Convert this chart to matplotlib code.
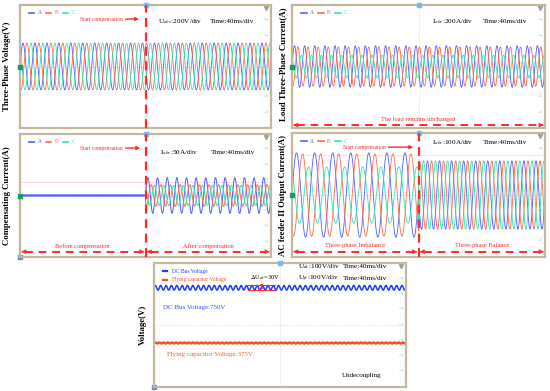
import numpy as np
import matplotlib.pyplot as plt

plt.rcParams['font.family'] = ['Liberation Serif', 'DejaVu Serif']
plt.rcParams['mathtext.fontset'] = 'stix'

# ---- data ----
phases = ['A', 'B', 'C']
phase_shift_deg = [0, -120, 120]
volt_peak = [305, 305, 305]              # V, 200 V/div
load_peak = [270, 255, 145]              # A, 200 A/div
comp_peak = [58, 35, 33]                 # A, 50 A/div
feeder_peak_before = [272, 266, 182]     # A, 100 A/div
feeder_peak_after = [220, 220, 220]
volt_cycles = 21
load_cycles = 25
comp_cycles = 26
feeder_cycles_before = 14
feeder_cycles_after = 21
dc_bus = 750          # V
dc_ripple_pp = 30     # V
dc_ripple_cycles = 47
fc_volt = 375         # V
fc_ripple_pp = 6
fc_ripple_cycles = 60

blue, red, green = '#4f5fff', '#ff6a4c', '#2fe6b2'
cols = [blue, red, green]
RED = '#ff2a2a'
t = np.linspace(0, 400, 6000)   # ms, 40 ms/div


def wave(peak, cycles, shift, start=0):
    return peak * np.sin(2 * np.pi * cycles / 400 * (t - start) + np.radians(shift))


def frac(scale, f):
    return f * 8 * scale - 4 * scale


def scope(ax, scale):
    ax.set_xlim(0, 400)
    ax.set_ylim(-4 * scale, 4 * scale)
    ax.set_xticks([])
    ax.set_yticks([])
    for s in ax.spines.values():
        s.set_color('#c4b89c')
        s.set_linewidth(1.6)
    ax.axhline(0, color='#c8c8c8', lw=0.5, ls=':', zorder=0)
    ax.axvline(200, color='#c8c8c8', lw=0.5, ls=':', zorder=0)
    for k in [-3, -2, -1, 0, 1, 2, 3]:
        ax.text(392, k * scale, '-- V', fontsize=1.8, color='#20b080', ha='center', va='center')
    ax.plot([392], [3.8 * scale], marker='v', ms=3, color='#a0a0a0', clip_on=False)
    ax.plot([200], [4 * scale], marker='s', ms=2.5, color='#7ab8f0', clip_on=False, zorder=5)


def legend_abc(ax, scale, y=0.935):
    yy = frac(scale, y)
    for i, (p, c) in enumerate(zip(phases, cols)):
        xs = 14 + i * 27
        ax.plot([xs, xs + 9], [yy, yy], color=c, lw=1.2)
        ax.text(xs + 14, yy, p, color=c, fontsize=4, va='center')


def zero_marker(ax):
    ax.plot([0], [0], marker='s', ms=3, color='#1a9a6a', clip_on=False, zorder=5)


def start_comp(ax, scale, xt, x0, x1, y=0.886):
    yy = frac(scale, y)
    ax.text(xt, yy, 'Start compensation', color=RED, fontsize=4, ha='center', va='center')
    ax.annotate('', xy=(x1, yy), xytext=(x0, yy),
                arrowprops=dict(arrowstyle='-|>', color=RED, lw=1.0, mutation_scale=5))


def dashed_arrow(ax, scale, x0, x1, label, y=0.043, ty=0.09):
    yy = frac(scale, y)
    ax.plot([x0 + 6, x1 - 6], [yy, yy], color=RED, lw=1.4, ls=(0, (4, 3)))
    ax.annotate('', xy=(x0, yy), xytext=(x0 + 7, yy),
                arrowprops=dict(arrowstyle='-|>', color=RED, lw=0.8, mutation_scale=6))
    ax.annotate('', xy=(x1, yy), xytext=(x1 - 7, yy),
                arrowprops=dict(arrowstyle='-|>', color=RED, lw=0.8, mutation_scale=6))
    ax.text((x0 + x1) / 2, frac(scale, ty), label, color=RED, fontsize=4.6,
            ha='center', va='center')


def red_vline(ax):
    ax.axvline(200, color=RED, lw=1.6, ls=(0, (4, 2.5)), zorder=6)


W, H = 550, 391
fig = plt.figure(figsize=(W / 100, H / 100), dpi=100)


def box(x0, y0, x1, y1):
    return fig.add_axes([x0 / W, 1 - y1 / H, (x1 - x0) / W, (y1 - y0) / H])


ax1 = box(20, 5, 271, 128)
ax2 = box(292, 5, 545, 128)
ax3 = box(20, 134, 271, 257)
ax4 = box(292, 133, 545, 257)
ax5 = box(154, 263, 406, 387)

# panel 1: three-phase voltage
s = 200
scope(ax1, s)
for pk, sh, c in zip(volt_peak, phase_shift_deg, cols):
    ax1.plot(t, wave(pk, volt_cycles, sh), color=c, lw=0.6)
legend_abc(ax1, s)
zero_marker(ax1)
red_vline(ax1)
start_comp(ax1, s, 129, 164, 194)
ax1.text(220, frac(s, 0.862), r'U$_{abc}$:200V/div', fontsize=5.2, va='center')
ax1.text(303, frac(s, 0.862), 'Time:40ms/div', fontsize=5.2, va='center')

# panel 2: load current
s = 200
scope(ax2, s)
for pk, sh, c in zip(load_peak, phase_shift_deg, cols):
    ax2.plot(t, wave(pk, load_cycles, sh), color=c, lw=0.6)
legend_abc(ax2, s)
zero_marker(ax2)
ax2.text(221, frac(s, 0.862), r'I$_{abc}$:200A/div', fontsize=5.2, va='center')
ax2.text(302, frac(s, 0.862), 'Time:40ms/div', fontsize=5.2, va='center')
dashed_arrow(ax2, s, 2, 398, 'The load remains unchanged', y=0.024, ty=0.07)

# panel 3: compensating current
s = 50
scope(ax3, s)
ax3.axhline(frac(s, 0.61), color='#ffc8c8', lw=0.5, zorder=0)
on = t >= 200
for pk, sh, c in zip(comp_peak, phase_shift_deg, cols):
    y = np.where(on, wave(pk, comp_cycles, sh, start=200), 0.0)
    ax3.plot(t, y, color=c, lw=0.7)
ax3.plot(t[~on], np.zeros((~on).sum()), color=blue, lw=1.6)
legend_abc(ax3, s)
zero_marker(ax3)
red_vline(ax3)
start_comp(ax3, s, 129, 164, 196)
ax3.text(223, frac(s, 0.846), r'I$_{abc}$:50A/div', fontsize=5.2, va='center')
ax3.text(304, frac(s, 0.846), 'Time:40ms/div', fontsize=5.2, va='center')
dashed_arrow(ax3, s, 2, 198, 'Before compensation')
dashed_arrow(ax3, s, 202, 398, 'After compensation')
ax3.plot([0], [-4 * s], marker='s', ms=3, color='#6a8ad0', clip_on=False)

# panel 4: AC feeder II output current
s = 100
scope(ax4, s)
ax4.axhline(frac(s, 0.82), color='#ffd0d0', lw=0.5, zorder=0)
before = t < 200
for pb, pa, sh, c in zip(feeder_peak_before, feeder_peak_after, phase_shift_deg, cols):
    y = np.where(before, wave(pb, feeder_cycles_before, sh), wave(pa, feeder_cycles_after, sh))
    ax4.plot(t, y, color=c, lw=0.6)
legend_abc(ax4, s)
zero_marker(ax4)
red_vline(ax4)
start_comp(ax4, s, 114, 148, 196, y=0.886)
ax4.text(221, frac(s, 0.927), r'I$_{abc}$:100A/div', fontsize=5.2, va='center')
ax4.text(302, frac(s, 0.927), 'Time:40ms/div', fontsize=5.2, va='center')
dashed_arrow(ax4, s, 2, 198, 'Three-phase Imbalance')
dashed_arrow(ax4, s, 202, 398, 'Three-phase Balance')

# panel 5: DC bus and flying capacitor voltage (plotted in divisions with channel offsets)
dc_offset, fc_offset, vscale = 510, 491, 100
scope(ax5, 1)
dc = dc_bus + dc_ripple_pp / 2 * np.sin(2 * np.pi * dc_ripple_cycles / 400 * t)
fc = fc_volt + fc_ripple_pp / 2 * np.sin(2 * np.pi * fc_ripple_cycles / 400 * t)
ax5.plot(t, (dc - dc_offset) / vscale, color='#1f3cff', lw=1.1)
ax5.plot(t, (fc - fc_offset) / vscale, color='#ff4a28', lw=1.8)
ax5.plot([0], [-4], marker='s', ms=3, color='#6a8ad0', clip_on=False)
ax5.plot([14, 21], [frac(1, 0.935)] * 2, color='#1f3cff', lw=1.6)
ax5.text(29, frac(1, 0.935), 'DC Bus Voltage', color='#1f3cff', fontsize=4, va='center')
ax5.plot([14, 21], [frac(1, 0.863)] * 2, color='#ff4a28', lw=1.6)
ax5.text(29, frac(1, 0.863), 'Flying capacitor Voltage', color='#ff4a28', fontsize=4, va='center')
ax5.text(228, frac(1, 0.968), r'U$_{dc}$:100V/div', fontsize=5.2, va='center')
ax5.text(300, frac(1, 0.968), 'Time:40ms/div', fontsize=5.2, va='center')
ax5.text(228, frac(1, 0.871), r'U$_{fc}$:100V/div', fontsize=5.2, va='center')
ax5.text(300, frac(1, 0.871), 'Time:40ms/div', fontsize=5.2, va='center')
top = (dc_bus + dc_ripple_pp / 2 - dc_offset) / vscale
bot = (dc_bus - dc_ripple_pp / 2 - dc_offset) / vscale
ax5.plot([149, 192], [top, top], color=RED, lw=0.8)
ax5.plot([149, 192], [bot, bot], color=RED, lw=0.8)
ax5.annotate('', xy=(171, top), xytext=(171, bot),
             arrowprops=dict(arrowstyle='<|-|>', color=RED, lw=0.8, mutation_scale=3))
ax5.text(152, frac(1, 0.885), r'$\Delta$U$_{dc}$=30V', fontsize=4.6, va='center')
ax5.text(14, frac(1, 0.645), 'DC Bus Voltage:750V', color='#3a4cff', fontsize=5, va='center')
ax5.text(20, frac(1, 0.266), 'Flying capacitor Voltage:375V', color='#ff5a3a', fontsize=5, va='center')
ax5.text(298, frac(1, 0.089), 'Undecoupling', fontsize=5, va='center')

# axis titles
lab = dict(rotation=90, fontsize=6.3, fontweight='bold', ha='center', va='center')
fig.text(7 / W, 1 - 66 / H, 'Three-Phase Voltage(V)', **lab)
fig.text(283 / W, 1 - 64 / H, 'Load Three-Phase Current(A)', **lab)
fig.text(7 / W, 1 - 196 / H, 'Compensating Current(A)', **lab)
fig.text(283 / W, 1 - 195 / H, 'AC feeder II Output Current(A)', **lab)
fig.text(143 / W, 1 - 325 / H, 'Voltage(V)', **lab)

fig.savefig('out.png', dpi=100)
